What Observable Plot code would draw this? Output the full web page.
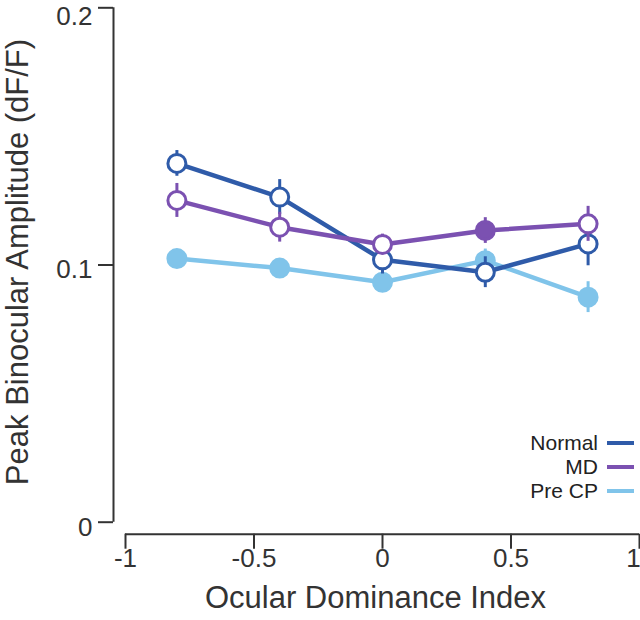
<!DOCTYPE html>
<html>
<head>
<meta charset="utf-8">
<script src="https://cdn.jsdelivr.net/npm/d3@7"></script>
<script src="https://cdn.jsdelivr.net/npm/@observablehq/plot@0.6"></script>
<style>
  html, body { margin: 0; padding: 0; background: #fff; }
  #wrap { position: relative; width: 640px; height: 620px; font-family: "Liberation Sans", Arial, sans-serif; }
  #legend { position: absolute; right: 6px; top: 431px; font-size: 21px; color: #222; }
  #legend .row { display: flex; align-items: center; justify-content: flex-end; height: 24px; }
  #legend .bar { display: inline-block; width: 27px; height: 4px; margin-left: 9px; }
</style>
</head>
<body>
<div id="wrap"></div>
<script>
// ---- data ----
const odi = [-0.8, -0.4, 0, 0.4, 0.8];
const seriesNames = ["Normal", "MD", "Pre CP"];
const seriesColors = ["#2f5ba9", "#7b51b1", "#80c4ea"];

const normalMean = [0.1395, 0.1264, 0.1020, 0.0972, 0.1082];
const normalSem  = [0.0050, 0.0068, 0.0055, 0.0060, 0.0085];
const normalFilled = [false, false, false, false, false];

const mdMean = [0.1251, 0.1147, 0.1080, 0.1134, 0.1160];
const mdSem  = [0.0066, 0.0058, 0.0040, 0.0050, 0.0068];
const mdFilled = [false, false, false, true, false];

const preMean = [0.1025, 0.0988, 0.0933, 0.1017, 0.0875];
const preSem  = [0.0030, 0.0030, 0.0040, 0.0045, 0.0060];
const preFilled = [true, true, true, true, true];

const xTicks = [-1, -0.5, 0, 0.5, 1];
const yTicks = [0, 0.1, 0.2];

// ---- table ----
function build(name, means, sems, filled) {
  return odi.map((x, i) => ({series: name, x, y: means[i], e: sems[i], filled: filled[i]}));
}
// draw order: Pre CP, Normal, MD
const rows = [
  ...build("Pre CP", preMean, preSem, preFilled),
  ...build("Normal", normalMean, normalSem, normalFilled),
  ...build("MD", mdMean, mdSem, mdFilled)
];
const colorOf = Object.fromEntries(seriesNames.map((s, i) => [s, seriesColors[i]]));
const order = ["Pre CP", "Normal", "MD"];

const font = "Liberation Sans, Arial, sans-serif";
const axisColor = "#333";
const xMax = d3.max(xTicks);
const yMax = d3.max(yTicks);

const marks = [
  // axis lines (offset)
  Plot.ruleX([-1], {y1: 0, y2: 0.2, dx: -12, stroke: axisColor, strokeWidth: 2}),
  Plot.ruleY([0], {x1: -1, x2: 1, dy: 12, stroke: axisColor, strokeWidth: 2}),
  // y ticks (no labels) + separate labels
  Plot.axisY({ticks: yTicks, tickFormat: () => "", dx: -12, tickSize: 15,
    stroke: axisColor, strokeWidth: 2, label: null}),
  Plot.text(yTicks.filter(t => t < yMax), {y: d => d, text: d => String(d), frameAnchor: "left", textAnchor: "end",
    dx: -33, dy: 5, fontSize: 26, fill: axisColor}),
  Plot.text(yTicks.filter(t => t === yMax), {y: d => d, text: d => String(d), frameAnchor: "left", textAnchor: "end",
    dx: -33, dy: 9, fontSize: 26, fill: axisColor}),
  // x ticks (no labels) + labels
  Plot.axisX({ticks: xTicks, tickFormat: () => "", dy: 12, tickSize: 15,
    stroke: axisColor, strokeWidth: 2, label: null}),
  Plot.text(xTicks.filter(t => t < xMax), {x: d => d, text: d => String(d), frameAnchor: "bottom",
    dy: 45, fontSize: 26, fill: axisColor}),
  Plot.text(xTicks.filter(t => t === xMax), {x: d => d, text: d => String(d), frameAnchor: "bottom",
    dy: 45, dx: -6, fontSize: 26, fill: axisColor}),
  // axis titles
  Plot.text(["Peak Binocular Amplitude (dF/F)"], {frameAnchor: "left", textAnchor: "middle",
    dx: -107, dy: -3, rotate: -90, fontSize: 31, fill: axisColor, text: d => d}),
  Plot.text(["Ocular Dominance Index"], {frameAnchor: "bottom", textAnchor: "middle", dy: 86, dx: -7,
    fontSize: 31, fill: axisColor, text: d => d})
];

for (const s of order) {
  const d = rows.filter(r => r.series === s);
  const c = colorOf[s];
  marks.push(Plot.line(d, {x: "x", y: "y", stroke: c, strokeWidth: 4.5}));
}
for (const s of order) {
  const d = rows.filter(r => r.series === s);
  const c = colorOf[s];
  marks.push(Plot.ruleX(d, {x: "x", y1: r => r.y - r.e, y2: r => r.y + r.e, stroke: c, strokeWidth: 3}));
  marks.push(Plot.dot(d, {x: "x", y: "y", r: 9, stroke: c, strokeWidth: 3,
    fill: r => r.filled ? c : "white"}));
}

const chart = Plot.plot({
  width: 640,
  height: 620,
  marginLeft: 125,
  marginRight: 1,
  marginTop: 7.3,
  marginBottom: 98.3,
  style: {fontFamily: font, background: "white", overflow: "visible"},
  x: {domain: [-1, 1], axis: null},
  y: {domain: [0, 0.2], axis: null},
  marks
});

const wrap = document.getElementById("wrap");
wrap.appendChild(chart);

// legend overlay
const legend = document.createElement("div");
legend.id = "legend";
seriesNames.forEach((s, i) => {
  const row = document.createElement("div");
  row.className = "row";
  const t = document.createElement("span");
  t.textContent = s;
  const b = document.createElement("span");
  b.className = "bar";
  b.style.background = seriesColors[i];
  row.appendChild(t);
  row.appendChild(b);
  legend.appendChild(row);
});
wrap.appendChild(legend);
</script>
</body>
</html>
